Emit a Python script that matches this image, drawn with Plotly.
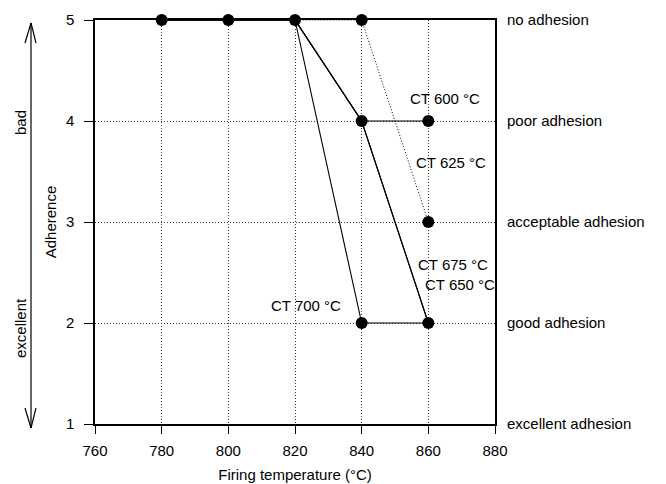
import plotly.graph_objects as go

# ---- data ----
firing_temp = [780, 800, 820, 840, 860]
ct600 = [5, 5, 5, 4, 4]
ct625 = [5, 5, 5, 5, 3]
ct650 = [5, 5, 5, 4, 2]
ct675 = [5, 5, 5, 4, 2]
ct700 = [5, 5, 5, 2, 2]

x_ticks = [760, 780, 800, 820, 840, 860, 880]
y_ticks = [1, 2, 3, 4, 5]
adhesion_labels = ["excellent adhesion", "good adhesion", "acceptable adhesion",
                   "poor adhesion", "no adhesion"]

# label positions (data coordinates) for the curve names
curve_labels = ["CT 600 °C", "CT 625 °C", "CT 675 °C", "CT 650 °C", "CT 700 °C"]
label_x = [865.0, 866.8, 867.5, 869.5, 823.3]
label_y = [4.22, 3.59, 2.58, 2.38, 2.17]

FONT = "Liberation Sans, Arial, Helvetica, sans-serif"
BLACK = "#000000"
DOT = "1px,2px"

fig = go.Figure()

line_solid = dict(color=BLACK, width=1.1)
line_dot = dict(color=BLACK, width=1, dash=DOT)

for ys, ln in [(ct600, line_solid), (ct650, line_solid), (ct675, line_solid),
               (ct700, line_solid), (ct625, line_dot)]:
    fig.add_trace(go.Scatter(x=firing_temp, y=ys, mode="lines", line=ln,
                             showlegend=False, hoverinfo="skip", cliponaxis=False))

# markers (all distinct points)
pts = sorted(set(zip(firing_temp * 5, ct600 + ct625 + ct650 + ct675 + ct700)))
fig.add_trace(go.Scatter(x=[p[0] for p in pts], y=[p[1] for p in pts], mode="markers",
                         marker=dict(color=BLACK, size=12), showlegend=False,
                         cliponaxis=False))

# invisible trace to activate the right-hand axis
fig.add_trace(go.Scatter(x=[firing_temp[0]], y=[y_ticks[0]], yaxis="y2", mode="markers",
                         marker=dict(opacity=0), showlegend=False, hoverinfo="skip"))

for t, xx, yy in zip(curve_labels, label_x, label_y):
    fig.add_annotation(x=xx, y=yy, xref="x", yref="y", text=t, showarrow=False,
                       xanchor="center", yanchor="middle",
                       font=dict(family=FONT, size=15, color=BLACK))

# side arrow "bad" / "excellent"
ax = -0.16
fig.add_shape(type="line", xref="paper", yref="paper", x0=ax, x1=ax, y0=-0.0099, y1=0.9926,
              line=dict(color=BLACK, width=1.2))
for ytip, yarm in [(0.9926, 0.943), (-0.0099, 0.0396)]:
    fig.add_shape(type="line", xref="paper", yref="paper", x0=-0.175, x1=ax, y0=yarm, y1=ytip,
                  line=dict(color=BLACK, width=1.2))
    fig.add_shape(type="line", xref="paper", yref="paper", x0=-0.1475, x1=ax, y0=yarm, y1=ytip,
                  line=dict(color=BLACK, width=1.2))
fig.add_annotation(x=-0.1875, y=0.745, xref="paper", yref="paper", text="bad",
                   textangle=-90, showarrow=False, xanchor="center", yanchor="middle",
                   font=dict(family=FONT, size=15, color=BLACK))
fig.add_annotation(x=-0.1875, y=0.2376, xref="paper", yref="paper", text="excellent",
                   textangle=-90, showarrow=False, xanchor="center", yanchor="middle",
                   font=dict(family=FONT, size=15, color=BLACK))

fig.update_layout(
    width=658, height=476,
    margin=dict(l=87, r=171, t=12, b=60, autoexpand=False),
    paper_bgcolor="white", plot_bgcolor="white",
    font=dict(family=FONT, size=15, color=BLACK),
    xaxis=dict(range=[760, 880], tickvals=x_ticks, ticks="outside", ticklen=8,
               tickcolor=BLACK, showline=True, linecolor=BLACK, linewidth=1.5, mirror=True,
               showgrid=True, gridcolor="#333333", griddash=DOT, gridwidth=1,
               zeroline=False, automargin=False,
               title=dict(text="Firing temperature (°C)", standoff=12,
                          font=dict(family=FONT, size=15, color=BLACK)),
               ticklabelstandoff=4, tickfont=dict(size=15)),
    yaxis=dict(range=[1, 5], tickvals=y_ticks, ticks="outside", ticklen=9,
               tickcolor=BLACK, showline=True, linecolor=BLACK, linewidth=1.5, mirror=True,
               showgrid=True, gridcolor="#333333", griddash=DOT, gridwidth=1,
               zeroline=False, automargin=False,
               title=dict(text="Adherence", standoff=6,
                          font=dict(family=FONT, size=15, color=BLACK)),
               ticklabelstandoff=7, tickfont=dict(size=15)),
    yaxis2=dict(range=[1, 5], overlaying="y", side="right", tickvals=y_ticks,
                ticktext=adhesion_labels, ticks="", showgrid=False, zeroline=False,
                showline=False, automargin=False, ticklabelstandoff=11,
                tickfont=dict(size=15)),
)

fig.write_html("out.html")
